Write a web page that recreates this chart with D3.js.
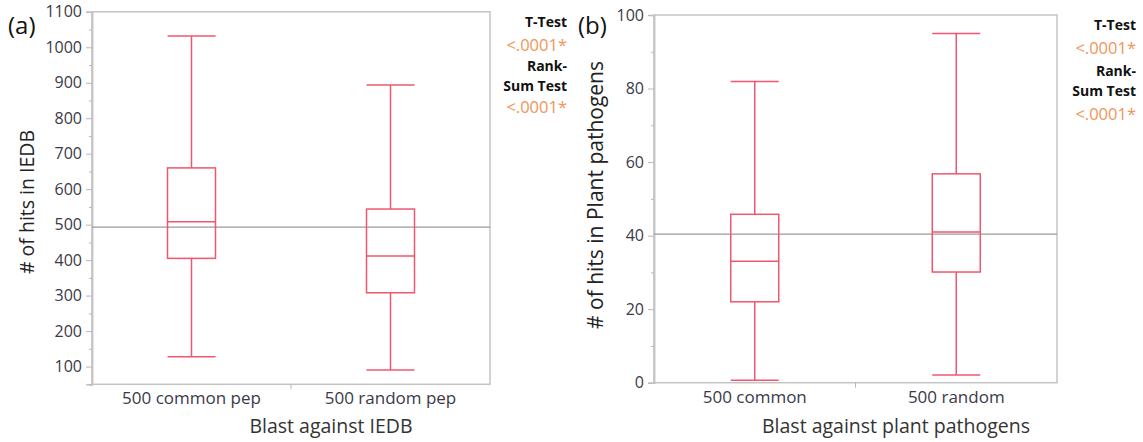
<!DOCTYPE html>
<html lang="en">
<head>
<meta charset="UTF-8">
<title>Blast hits box plots</title>
<script src="https://cdn.jsdelivr.net/npm/d3@7"></script>
<style>
  body { margin: 0; background: #fff; }
  text { font-family: "Open Sans", "Noto Sans", sans-serif; }
</style>
</head>
<body>
<svg id="body" width="1143" height="442"></svg>
<script>
// panel (a)
let catsA = ["500 common pep", "500 random pep"]
let minA = [128, 90]
let q1A = [405, 308]
let medA = [508, 412]
let q3A = [660, 544]
let maxA = [1032, 894]
let meanA = 493
let ticksA = [100, 200, 300, 400, 500, 600, 700, 800, 900, 1000, 1100]
let minorA = [50, 150, 250, 350, 450, 550, 650, 750, 850, 950, 1050]

// panel (b)
let catsB = ["500 common", "500 random"]
let minB = [0.7, 2.1]
let q1B = [22, 30.1]
let medB = [33, 41]
let q3B = [45.8, 56.8]
let maxB = [81.9, 95]
let meanB = 40.4
let ticksB = [0, 20, 40, 60, 80, 100]
let minorB = [10, 30, 50, 70, 90]

let statLines = ["T-Test", "<.0001*", "Rank-", "Sum Test", "<.0001*"]

let svg = d3.select("#body")
let red = "#f2566e"

function panel(o) {
    let y = d3.scaleLinear().domain(o.domain).range([o.bottom, o.top])
    let x = d3.scaleBand().domain(o.cats).range([o.left, o.right])
    let g = svg.append("g")

    // frame
    g.append("rect")
        .attr("x", o.left).attr("y", o.top)
        .attr("width", o.right - o.left).attr("height", o.bottom - o.top)
        .attr("fill", "none").attr("stroke", "#c4c4c4").attr("stroke-width", 1.5)

    // y axis
    let ya = g.append("g").attr("transform", `translate(${o.left},0)`)
        .call(d3.axisLeft(y).tickValues(o.ticks).tickSize(6).tickPadding(4).tickFormat(d3.format("d")))
    let ym = g.append("g").attr("transform", `translate(${o.left},0)`)
        .call(d3.axisLeft(y).tickValues(o.minor).tickSize(3).tickFormat(""))
    ;[ya, ym].forEach(a => {
        a.select(".domain").attr("stroke", "#c4c4c4").attr("stroke-width", 1.5)
        a.selectAll(".tick line").attr("stroke", "#b8b8b8")
    })
    ya.selectAll(".tick text").attr("fill", "#3a3a48").style("font-size", "16px")

    // x axis
    let xa = g.append("g").attr("transform", `translate(0,${o.bottom})`)
        .call(d3.axisBottom(x).tickSize(0).tickPadding(8))
    xa.select(".domain").remove()
    xa.selectAll(".tick text").attr("fill", "#3a3a48").style("font-size", "17px")
    g.append("line")
        .attr("x1", x(o.cats[1])).attr("x2", x(o.cats[1]))
        .attr("y1", o.bottom).attr("y2", o.bottom + 5)
        .attr("stroke", "#b8b8b8")

    // mean line
    g.append("line")
        .attr("x1", o.left).attr("x2", o.right)
        .attr("y1", y(o.mean)).attr("y2", y(o.mean))
        .attr("stroke", "#9a9a9a").attr("stroke-width", 1.3)

    // boxes
    let bw = 48
    o.cats.forEach((c, i) => {
        let cx = x(c) + x.bandwidth() / 2
        let b = g.append("g").attr("stroke", red).attr("stroke-width", 1.5).attr("fill", "none")
        b.append("line").attr("x1", cx).attr("x2", cx).attr("y1", y(o.max[i])).attr("y2", y(o.q3[i]))
        b.append("line").attr("x1", cx).attr("x2", cx).attr("y1", y(o.q1[i])).attr("y2", y(o.min[i]))
        b.append("rect").attr("x", cx - bw / 2).attr("width", bw)
            .attr("y", y(o.q3[i])).attr("height", y(o.q1[i]) - y(o.q3[i]))
        ;[o.max[i], o.med[i], o.min[i]].forEach(v => {
            b.append("line").attr("x1", cx - bw / 2).attr("x2", cx + bw / 2)
                .attr("y1", y(v)).attr("y2", y(v))
        })
    })

    // titles
    g.append("text")
        .attr("transform", `translate(${o.ytx},${o.yty}) rotate(-90)`)
        .attr("text-anchor", "middle").attr("dominant-baseline", "middle")
        .attr("fill", "#222").style("font-size", o.ytsize + "px").text(o.ytitle)
    g.append("text")
        .attr("x", o.xtx).attr("y", 433)
        .attr("text-anchor", "middle").attr("fill", "#333").style("font-size", "19.5px")
        .text(o.xtitle)
    g.append("text")
        .attr("x", o.tagx).attr("y", 34)
        .attr("fill", "#111").style("font-size", "24px").text(o.tag)

    // stats
    g.selectAll(".stat").data(statLines).enter().append("text")
        .attr("x", o.statx)
        .attr("y", (d, i) => o.staty[i])
        .attr("text-anchor", "end")
        .attr("fill", (d, i) => i % 3 == 1 ? "#f0945a" : "#111")
        .style("font-weight", (d, i) => i % 3 == 1 ? "normal" : "bold")
        .style("font-size", (d, i) => i % 3 == 1 ? "16.5px" : "14px")
        .text(d => d)
}

panel({
    cats: catsA, min: minA, q1: q1A, med: medA, q3: q3A, max: maxA, mean: meanA,
    ticks: ticksA, minor: minorA, domain: [50, 1100],
    left: 92, right: 490, top: 11.8, bottom: 384.3,
    ytx: 29, yty: 202, ytsize: 19.5, ytitle: "# of hits in IEDB",
    xtx: 331, xtitle: "Blast against IEDB",
    tag: "(a)", tagx: 8, statx: 567, staty: [27, 51, 71, 91, 113]
})
panel({
    cats: catsB, min: minB, q1: q1B, med: medB, q3: q3B, max: maxB, mean: meanB,
    ticks: ticksB, minor: minorB, domain: [0, 100],
    left: 654, right: 1057, top: 15, bottom: 382.7,
    ytx: 597, yty: 195, ytsize: 21, ytitle: "# of hits in Plant pathogens",
    xtx: 896, xtitle: "Blast against plant pathogens",
    tag: "(b)", tagx: 578, statx: 1136, staty: [30, 54, 76, 96, 120]
})
</script>
</body>
</html>
